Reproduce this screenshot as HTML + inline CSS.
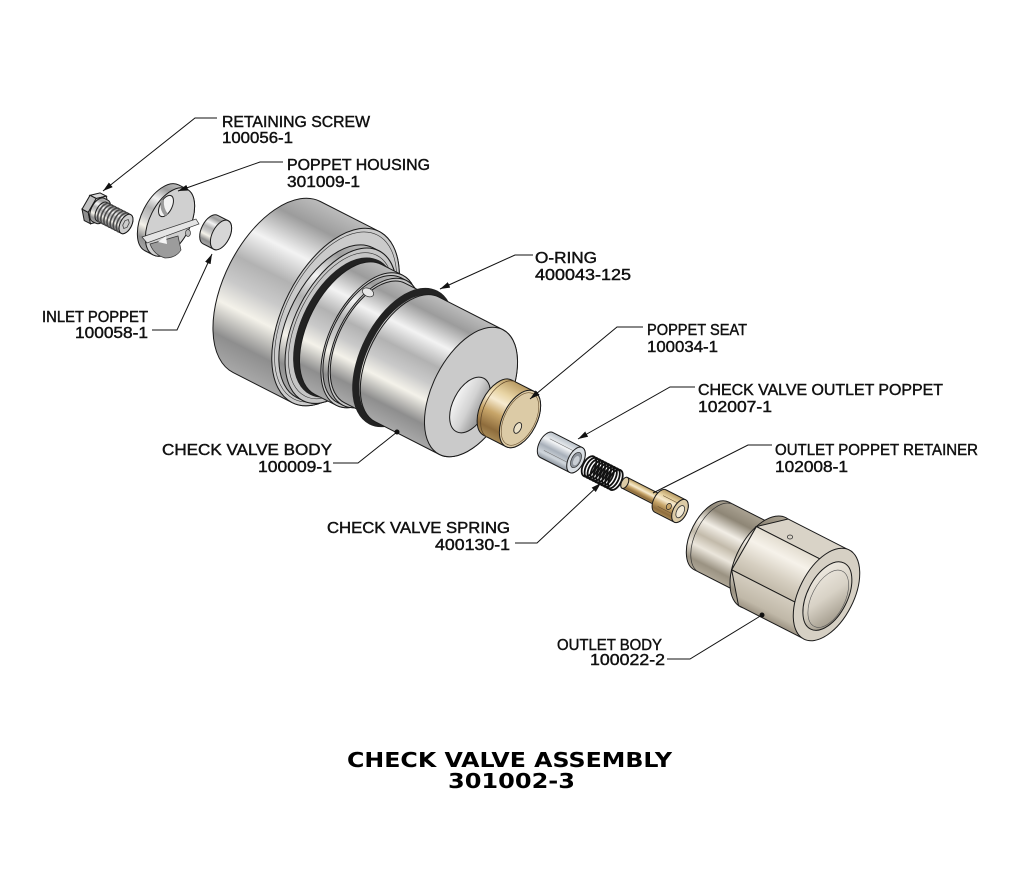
<!DOCTYPE html>
<html><head><meta charset="utf-8"><style>
html,body{margin:0;padding:0;background:#fff;}
svg{display:block;}
.t{font-family:"Liberation Sans",sans-serif;font-size:16px;fill:#111;stroke:#111;stroke-width:0.45;}
.ti{font-family:"DejaVu Sans","Liberation Sans",sans-serif;font-size:20.5px;font-weight:bold;fill:#000;}
.o{stroke:#1a1a1a;stroke-width:1;}
.ld{fill:none;stroke:#111;stroke-width:1;}
</style></head><body>
<svg width="1030" height="888" viewBox="0 0 1030 888" xmlns="http://www.w3.org/2000/svg">
<defs>
<linearGradient id="m" x1="0" y1="0" x2="0" y2="1">
<stop offset="0" stop-color="#bcbcbc"/><stop offset="0.13" stop-color="#9c9c9c"/><stop offset="0.3" stop-color="#f3f3f3"/><stop offset="0.45" stop-color="#b2b2b2"/><stop offset="0.58" stop-color="#c9c9c9"/><stop offset="0.7" stop-color="#f4f2ea"/><stop offset="0.86" stop-color="#8e8e8e"/><stop offset="1" stop-color="#a8a8a8"/>
</linearGradient>
<linearGradient id="w" x1="0" y1="0" x2="0" y2="1">
<stop offset="0" stop-color="#aaa292"/><stop offset="0.18" stop-color="#8e8676"/><stop offset="0.38" stop-color="#f2eee6"/><stop offset="0.55" stop-color="#c2baaa"/><stop offset="0.7" stop-color="#ebe6dc"/><stop offset="0.88" stop-color="#9a9282"/><stop offset="1" stop-color="#b0a898"/>
</linearGradient>
<linearGradient id="wB" x1="0" y1="0" x2="0" y2="1">
<stop offset="0" stop-color="#e2dccf"/><stop offset="0.3" stop-color="#f6f2ea"/><stop offset="0.7" stop-color="#d6cfc1"/><stop offset="1" stop-color="#c2baaa"/>
</linearGradient>
<linearGradient id="wC" x1="0" y1="0" x2="0" y2="1">
<stop offset="0" stop-color="#d4cdbf"/><stop offset="0.7" stop-color="#c0b8a8"/><stop offset="1" stop-color="#9c9383"/>
</linearGradient>
<linearGradient id="b" x1="0" y1="0" x2="0" y2="1">
<stop offset="0" stop-color="#b89a62"/><stop offset="0.25" stop-color="#e8d4a4"/><stop offset="0.4" stop-color="#f6ead0"/><stop offset="0.6" stop-color="#c8a66a"/><stop offset="0.85" stop-color="#8e6c3c"/><stop offset="1" stop-color="#a88a56"/>
</linearGradient>
<linearGradient id="s" x1="0" y1="0" x2="0" y2="1">
<stop offset="0" stop-color="#b8c0c8"/><stop offset="0.3" stop-color="#f2f4f6"/><stop offset="0.55" stop-color="#a8b0ba"/><stop offset="0.8" stop-color="#d0d6dc"/><stop offset="1" stop-color="#8c949e"/>
</linearGradient>
<linearGradient id="h" x1="0" y1="0" x2="1" y2="0">
<stop offset="0" stop-color="#f4f4f4"/><stop offset="0.5" stop-color="#d2d2d2"/><stop offset="1" stop-color="#8c8c8c"/>
</linearGradient>
<linearGradient id="bore" x1="0" y1="0" x2="1" y2="1">
<stop offset="0" stop-color="#f4f0e8"/><stop offset="0.5" stop-color="#d8d2c6"/><stop offset="1" stop-color="#8e8676"/>
</linearGradient>
<marker id="ar" viewBox="0 0 10 6" refX="10" refY="3" markerWidth="10" markerHeight="6" markerUnits="userSpaceOnUse" orient="auto"><path d="M0,0 L10,3 L0,6 Z" fill="#111"/></marker>
<marker id="dt" viewBox="0 0 6 6" refX="3" refY="3" markerWidth="5" markerHeight="5" markerUnits="userSpaceOnUse"><circle cx="3" cy="3" r="3" fill="#111"/></marker>
</defs>

<rect width="1030" height="888" fill="#fff"/>

<!-- RETAINING SCREW -->
<g transform="translate(126,224) rotate(27)">
  <polygon class="o" points="-37.2,-15.9 -30.2,-15.9 -38.1,-9.2 -45.1,-9.2" fill="#d8d8d8"/>
  <polygon class="o" points="-45.1,-9.2 -38.1,-9.2 -38.9,6.8 -45.9,6.8" fill="#c0c0c0"/>
  <polygon class="o" points="-45.9,6.8 -38.9,6.8 -31.8,15.9 -38.8,15.9" fill="#8e8e8e"/>
  <polygon class="o" points="-30.2,-15.9 -38.1,-9.2 -38.9,6.8 -31.8,15.9 -23.9,9.2 -23.1,-6.8" fill="#cfcfcf"/>
  <path class="o" d="M-31,-13 L-27,-13 A7.1,13 0 0 1 -27,13 L-31,13 A7.1,13 0 0 1 -31,-13 Z" fill="url(#m)"/>
  <path class="o" d="M-27,-10.5 L0,-10.5 A5.7,10.5 0 0 1 0,10.5 L-27,10.5 A5.7,10.5 0 0 1 -27,-10.5 Z" fill="url(#m)"/>
  <g fill="none" stroke="#4a4a4a" stroke-width="1.6">
    <path d="M-24,-10.5 A5.7,10.5 0 0 0 -24,10.5"/><path d="M-20.5,-10.5 A5.7,10.5 0 0 0 -20.5,10.5"/><path d="M-17,-10.5 A5.7,10.5 0 0 0 -17,10.5"/><path d="M-13.5,-10.5 A5.7,10.5 0 0 0 -13.5,10.5"/><path d="M-10,-10.5 A5.7,10.5 0 0 0 -10,10.5"/><path d="M-6.5,-10.5 A5.7,10.5 0 0 0 -6.5,10.5"/><path d="M-3,-10.5 A5.7,10.5 0 0 0 -3,10.5"/>
  </g>
  <ellipse class="o" cx="0" cy="0" rx="5.7" ry="10.5" fill="#cdcdcd"/>
  <polygon points="0,-5 -2.4,-2.5 -2.4,2.5 0,5 2.4,2.5 2.4,-2.5" fill="none" stroke="#444" stroke-width="0.8"/>
</g>

<!-- POPPET HOUSING -->
<g transform="translate(170,222) rotate(27)">
  <path class="o" d="M-9,-37 L0,-37 A20.2,37 0 0 1 0,37 L-9,37 A20.2,37 0 0 1 -9,-37 Z" fill="url(#m)"/>
  <ellipse class="o" cx="0" cy="0" rx="20.2" ry="37" fill="#d0d0d0"/>
</g>
<ellipse cx="166" cy="206" rx="6" ry="11.5" transform="rotate(27 166 206)" fill="#f2f2f2" stroke="#222" stroke-width="1"/>
<path d="M161,200 Q159,210 165,216 L168,214 Q163,208 164,200 Z" fill="#9a9a9a"/>
<polygon points="142,237 196,219 199,224 147,243" fill="#e4e4e4" stroke="#333" stroke-width="0.7"/>
<path d="M150,244 L178,236 L181,250 Q176,258 165,258 Q154,255 150,244 Z" fill="#9c9c9c" stroke="#333" stroke-width="0.7"/>
<polygon points="158,242 166,236 167,244" fill="#f4f4f4"/>
<ellipse cx="188" cy="233" rx="2.5" ry="3.5" fill="#bbb" stroke="#333" stroke-width="0.7"/>

<!-- INLET POPPET -->
<g transform="translate(221,235) rotate(27)">
  <path class="o" d="M-12,-16 L0,-16 A8.7,16 0 0 1 0,16 L-12,16 A8.7,16 0 0 1 -12,-16 Z" fill="url(#m)"/>
  <ellipse class="o" cx="0" cy="0" rx="8.7" ry="16" fill="#d6d6d6"/>
</g>

<!-- CHECK VALVE BODY: flange -->
<g transform="translate(471,386) rotate(27)">
  <path class="o" d="M-218,-96 L-152,-96 A52.3,96 0 0 1 -152,96 L-218,96 A52.3,96 0 0 1 -218,-96 Z" fill="url(#m)"/>
  <ellipse class="o" cx="-152" cy="0" rx="52.3" ry="96" fill="#cbcbcb"/>
  <ellipse cx="-152" cy="0" rx="50" ry="92" fill="none" stroke="#333" stroke-width="0.6"/>
</g>
<g transform="translate(471,392) rotate(27)">
  <path class="o" d="M-153,-84 L-146,-84 A45.8,84 0 0 1 -146,84 L-153,84 A45.8,84 0 0 1 -153,-84 Z" fill="url(#m)"/>
  <ellipse class="o" cx="-146" cy="0" rx="45.8" ry="84" fill="#c6c6c6"/>
  <ellipse cx="-146" cy="0" rx="43" ry="79" fill="none" stroke="#333" stroke-width="0.6"/>
  <path class="o" d="M-146,-70 L-138,-70 A38.15,70 0 0 1 -138,70 L-146,70 A38.15,70 0 0 1 -146,-70 Z" fill="url(#m)"/>
  <ellipse cx="-142" cy="0" rx="39.2" ry="72" fill="none" stroke="#222" stroke-width="7"/>
  <path class="o" d="M-138,-73 L-114,-73 A39.8,73 0 0 1 -114,73 L-138,73 A39.8,73 0 0 1 -138,-73 Z" fill="url(#m)"/>
  <ellipse class="o" cx="-114" cy="0" rx="39.8" ry="73" fill="#c8c8c8"/>
  <path class="o" d="M-114,-70 L-108,-70 A38.15,70 0 0 1 -108,70 L-114,70 A38.15,70 0 0 1 -114,-70 Z" fill="url(#m)"/>
  <ellipse class="o" cx="-108" cy="0" rx="38.15" ry="70" fill="#c4c4c4"/>
  <path class="o" d="M-108,-67 L-72,-67 A36.5,67 0 0 1 -72,67 L-108,67 A36.5,67 0 0 1 -108,-67 Z" fill="url(#m)"/>
  <ellipse cx="-137" cy="-42" rx="6" ry="4" fill="#e6e6e6" stroke="#333" stroke-width="0.7"/>
  <ellipse cx="-76" cy="0" rx="39" ry="71.5" fill="none" stroke="#222" stroke-width="7"/>
  <path class="o" d="M-72,-70 L0,-70 A38.15,70 0 0 1 0,70 L-72,70 A38.15,70 0 0 1 -72,-70 Z" fill="url(#m)"/>
  <ellipse class="o" cx="0" cy="0" rx="38.15" ry="70" fill="#cacaca"/>
  <ellipse class="o" cx="5" cy="12" rx="17" ry="30" fill="url(#h)"/>
</g>

<!-- POPPET SEAT -->
<g transform="translate(520,419) rotate(27)">
  <path class="o" d="M-25,-31 L0,-31 A16.9,31 0 0 1 0,31 L-25,31 A16.9,31 0 0 1 -25,-31 Z" fill="url(#b)"/>
  <path d="M-21,-31 A16.9,31 0 0 0 -21,31" fill="none" stroke="#5a4326" stroke-width="0.7"/>
  <ellipse class="o" cx="0" cy="0" rx="16.9" ry="31" fill="#dccba6"/>
  <ellipse cx="0" cy="0" rx="15.3" ry="28.4" fill="none" stroke="#6a5232" stroke-width="0.6"/>
  <ellipse cx="2" cy="9" rx="3.3" ry="5.8" fill="#ece2c8" stroke="#222" stroke-width="0.9"/>
</g>

<!-- CHECK VALVE OUTLET POPPET -->
<g transform="translate(576,460) rotate(27)">
  <path class="o" d="M-33,-14 L0,-14 A7.6,14 0 0 1 0,14 L-33,14 A7.6,14 0 0 1 -33,-14 Z" fill="url(#s)"/>
  <line x1="-33" y1="-7" x2="0" y2="-7" stroke="#777" stroke-width="0.6"/>
  <line x1="-33" y1="6" x2="0" y2="6" stroke="#777" stroke-width="0.6"/>
  <ellipse class="o" cx="0" cy="0" rx="7.6" ry="14" fill="#dadfe4"/>
  <ellipse cx="0" cy="0" rx="4.5" ry="8.3" fill="#8e949c" stroke="#333" stroke-width="0.7"/>
  <ellipse cx="0.5" cy="0.5" rx="2.7" ry="5" fill="#c9ced4"/>
</g>

<!-- SPRING -->
<g transform="translate(615.7,480) rotate(27)" fill="none" stroke="#111" stroke-width="1.8">
  <ellipse cx="-30" cy="0" rx="6" ry="11"/><ellipse cx="-26.7" cy="0" rx="6" ry="11"/><ellipse cx="-23.4" cy="0" rx="6" ry="11"/><ellipse cx="-20.1" cy="0" rx="6" ry="11"/><ellipse cx="-16.8" cy="0" rx="6" ry="11"/><ellipse cx="-13.5" cy="0" rx="6" ry="11"/><ellipse cx="-10.2" cy="0" rx="6" ry="11"/><ellipse cx="-6.9" cy="0" rx="6" ry="11"/><ellipse cx="-3.6" cy="0" rx="6" ry="11"/><ellipse cx="-0.3" cy="0" rx="6" ry="11"/>
</g>

<!-- OUTLET POPPET RETAINER -->
<g transform="translate(680,511) rotate(27)">
  <path class="o" d="M-62,-6 L-20,-6 A3.3,6 0 0 1 -20,6 L-62,6 A3.3,6 0 0 1 -62,-6 Z" fill="url(#b)"/>
  <ellipse class="o" cx="-62" cy="0" rx="3.3" ry="6" fill="#dccba6"/>
  <path class="o" d="M-22,-12.5 L0,-12.5 A6.8,12.5 0 0 1 0,12.5 L-22,12.5 A6.8,12.5 0 0 1 -22,-12.5 Z" fill="url(#b)"/>
  <line x1="-22" y1="-6" x2="0" y2="-6" stroke="#6a5232" stroke-width="0.6"/>
  <line x1="-22" y1="6" x2="0" y2="6" stroke="#6a5232" stroke-width="0.6"/>
  <ellipse cx="-12" cy="1" rx="2.4" ry="3.2" fill="#c8a66a" stroke="#222" stroke-width="0.7"/>
  <ellipse class="o" cx="0" cy="0" rx="6.8" ry="12.5" fill="#dccba6"/>
  <ellipse cx="0.5" cy="0.5" rx="3.6" ry="6.6" fill="#f2ead6" stroke="#333" stroke-width="0.8"/>
</g>

<!-- OUTLET BODY -->
<g transform="translate(826.5,594.5) rotate(27)">
  <path class="o" d="M-129,-38 L-71,-38 A20.7,38 0 0 1 -71,38 L-129,38 A20.7,38 0 0 1 -129,-38 Z" fill="url(#w)"/>
  <path d="M-124,-38 A20.7,38 0 0 0 -124,38" fill="none" stroke="#333" stroke-width="0.7"/>
  <ellipse class="o" cx="-71" cy="0" rx="27.25" ry="50" fill="url(#w)"/>
  <polygon class="o" points="-68.6,-49.8 2.38,-49.8 -22.3,-28.7 -93.3,-28.7" fill="#d9d3c7"/>
  <polygon class="o" points="-93.3,-28.7 -22.3,-28.7 -24.7,21.1 -95.7,21.1" fill="url(#wB)"/>
  <polygon class="o" points="-95.7,21.1 -24.7,21.1 -2.38,49.8 -73.4,49.8" fill="url(#wC)"/>
  <ellipse class="o" cx="0" cy="0" rx="27.25" ry="50" fill="#d6d0c4"/>
  <ellipse class="o" cx="1.5" cy="1" rx="20" ry="37" fill="url(#bore)"/>
  <ellipse cx="3.5" cy="3" rx="16.5" ry="31" fill="none" stroke="#555" stroke-width="0.6"/>
</g>
<ellipse cx="790" cy="537" rx="2.6" ry="2" fill="none" stroke="#333" stroke-width="0.8"/>

<!-- LEADERS -->
<polyline class="ld" points="217,118 195,118 103,191" marker-end="url(#ar)"/>
<polyline class="ld" points="283,162 260,162 178,191" marker-end="url(#ar)"/>
<polyline class="ld" points="152,330 177,330 212,254" marker-end="url(#ar)"/>
<polyline class="ld" points="533,255 515,255 440,289" marker-end="url(#ar)"/>
<polyline class="ld" points="643,327 617,327 530,399" marker-end="url(#ar)"/>
<polyline class="ld" points="695,387 670,387 578,439" marker-end="url(#ar)"/>
<polyline class="ld" points="772,445 748,445 653,493"/>
<polyline class="ld" points="333,463 358,463 397,432" marker-end="url(#dt)"/>
<polyline class="ld" points="515,543 537,543 601,483" marker-end="url(#ar)"/>
<polyline class="ld" points="667,659 690,659 762,615" marker-end="url(#dt)"/>

<!-- LABELS -->
<text class="t" x="222" y="127" textLength="148" lengthAdjust="spacingAndGlyphs">RETAINING SCREW</text>
<text class="t" x="222" y="143" textLength="71" lengthAdjust="spacingAndGlyphs">100056-1</text>
<text class="t" x="287" y="170" textLength="143" lengthAdjust="spacingAndGlyphs">POPPET HOUSING</text>
<text class="t" x="287" y="187" textLength="73" lengthAdjust="spacingAndGlyphs">301009-1</text>
<text class="t" x="42" y="322" textLength="106" lengthAdjust="spacingAndGlyphs">INLET POPPET</text>
<text class="t" x="75" y="338" textLength="73" lengthAdjust="spacingAndGlyphs">100058-1</text>
<text class="t" x="535" y="263" textLength="62" lengthAdjust="spacingAndGlyphs">O-RING</text>
<text class="t" x="535" y="280" textLength="96" lengthAdjust="spacingAndGlyphs">400043-125</text>
<text class="t" x="647" y="335" textLength="100" lengthAdjust="spacingAndGlyphs">POPPET SEAT</text>
<text class="t" x="647" y="352" textLength="71" lengthAdjust="spacingAndGlyphs">100034-1</text>
<text class="t" x="698" y="395" textLength="245" lengthAdjust="spacingAndGlyphs">CHECK VALVE OUTLET POPPET</text>
<text class="t" x="698" y="412" textLength="74" lengthAdjust="spacingAndGlyphs">102007-1</text>
<text class="t" x="775" y="455" textLength="203" lengthAdjust="spacingAndGlyphs">OUTLET POPPET RETAINER</text>
<text class="t" x="775" y="472" textLength="73" lengthAdjust="spacingAndGlyphs">102008-1</text>
<text class="t" x="162" y="455" textLength="170" lengthAdjust="spacingAndGlyphs">CHECK VALVE BODY</text>
<text class="t" x="258" y="472" textLength="74" lengthAdjust="spacingAndGlyphs">100009-1</text>
<text class="t" x="327" y="533" textLength="183" lengthAdjust="spacingAndGlyphs">CHECK VALVE SPRING</text>
<text class="t" x="435" y="550" textLength="75" lengthAdjust="spacingAndGlyphs">400130-1</text>
<text class="t" x="557" y="650" textLength="105" lengthAdjust="spacingAndGlyphs">OUTLET BODY</text>
<text class="t" x="590" y="665" textLength="75" lengthAdjust="spacingAndGlyphs">100022-2</text>

<text class="ti" x="347" y="767" textLength="325" lengthAdjust="spacingAndGlyphs">CHECK VALVE ASSEMBLY</text>
<text class="ti" x="448" y="788" textLength="127" lengthAdjust="spacingAndGlyphs">301002-3</text>
</svg>
</body></html>
